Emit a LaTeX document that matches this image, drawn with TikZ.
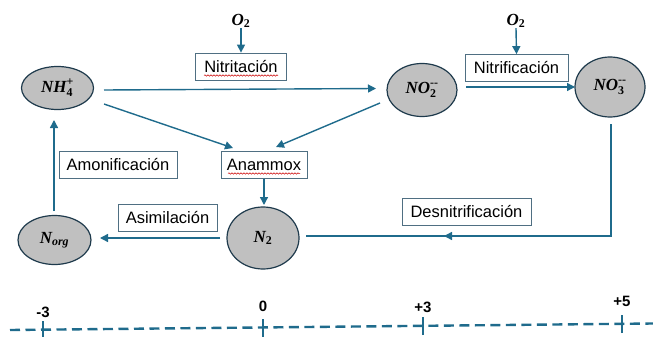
\documentclass[tikz,border=0pt]{standalone}
\usepackage{fontspec}
\setmainfont{Liberation Sans}
\newfontfamily\chemfont{Liberation Serif}
\usepackage{amsmath}
\usetikzlibrary{shapes.geometric,arrows.meta,decorations.pathmorphing}
\definecolor{flow}{HTML}{1F6B8C}
\definecolor{ellfill}{HTML}{C0C0C0}
\definecolor{ellline}{HTML}{1E3A4C}
\definecolor{boxline}{HTML}{4F6F82}
\newcommand{\chm}[1]{\text{\chemfont\bfseries\itshape #1}}
\newcommand{\chu}[1]{\text{\chemfont\bfseries #1}}
\tikzset{
  species/.style={ellipse, draw=ellline, line width=1.2pt, fill=ellfill, inner sep=0pt, font=\fontsize{17}{19}\selectfont},
  procbox/.style={draw=boxline, line width=0.8pt, fill=white, inner sep=0pt, minimum height=27pt, font=\fontsize{16.5}{19}\selectfont},
  flowarrow/.style={draw=flow, line width=1.4pt, -{Triangle[length=8pt,width=8pt]}},
  flowline/.style={draw=flow, line width=1.4pt},
  oxy/.style={inner sep=0pt, font=\fontsize{17}{19}\selectfont},
  scalelbl/.style={inner sep=0pt, font=\fontsize{15}{17}\selectfont\bfseries},
  scaletick/.style={draw=flow, line width=2pt},
  scaleline/.style={draw=flow, line width=2.4pt, dash pattern=on 10pt off 5.5pt},
  spell/.style={draw=red!80!black, line width=0.5pt, decorate, decoration={snake, amplitude=0.7pt, segment length=3pt}}
}
\begin{document}
\begin{tikzpicture}[x=1pt,y=-1pt]
\useasboundingbox (0,0) rectangle (653,337);

% species
\node[species, minimum width=72pt, minimum height=43pt] (nh4) at (57.5,88) {$\chm{NH}_{\chu{4}}^{\chu{+}}$};
\node[species, minimum width=70pt, minimum height=53pt] (no2) at (422,90) {$\chm{NO}_{\chu{2}}^{\chu{--}}$};
\node[species, minimum width=70pt, minimum height=60pt] (no3) at (610,87) {$\chm{NO}_{\chu{3}}^{\chu{--}}$};
\node[species, minimum width=73pt, minimum height=49pt] (norg) at (54.5,240) {$\chm{N}_{\chm{org}}$};
\node[species, minimum width=72pt, minimum height=62pt] (n2) at (263,238) {$\chm{N}_{\chu{2}}$};

% process boxes
\node[procbox, minimum width=91pt] (nitrit) at (241,66.5) {Nitritación};
\node[procbox, minimum width=103pt] (nitrif) at (516.5,68) {Nitrificación};
\node[procbox, minimum width=118pt] (amon) at (118,165) {Amonificación};
\node[procbox, minimum width=86pt] (anam) at (264,165) {Anammox};
\node[procbox, minimum width=99pt] (asim) at (167.5,218) {Asimilación};
\node[procbox, minimum width=129pt] (desn) at (466.5,211.5) {Desnitrificación};

% spell-check underlines
\coordinate (sp1a) at (204,75.5); \coordinate (sp1b) at (278,75.5);
\coordinate (sp2a) at (228,173.5); \coordinate (sp2b) at (300,173.5);
\draw[spell] (sp1a) -- (sp1b);
\draw[spell] (sp2a) -- (sp2b);

% oxygen inputs
\node[oxy] (o2a) at (241,21) {$\chm{O}_{\chu{2}}$};
\node[oxy] (o2b) at (516,21) {$\chm{O}_{\chu{2}}$};
\draw[flowarrow] (o2a.south) -- (nitrit.north);
\draw[flowarrow] (o2b.south) -- (nitrif.north);

% connectors
\coordinate (a1s) at (104,90); \coordinate (a1e) at (376,88.5);
\draw[flowarrow] (a1s) -- (a1e);
\coordinate (a2s) at (104,104); \coordinate (a2e) at (233,148);
\draw[flowarrow] (a2s) -- (a2e);
\coordinate (a3s) at (380,103); \coordinate (a3e) at (276,147);
\draw[flowarrow] (a3s) -- (a3e);
\coordinate (a4s) at (466,87); \coordinate (a4e) at (575,87);
\draw[flowarrow] (a4s) -- (a4e);
\coordinate (a5e) at (264,205);
\draw[flowarrow] (anam.south) -- (a5e);
\coordinate (a6s) at (220,238); \coordinate (a6e) at (100,238);
\draw[flowarrow] (a6s) -- (a6e);
\coordinate (a7s) at (54,211); \coordinate (a7e) at (54,120);
\draw[flowarrow] (a7s) -- (a7e);
\coordinate (a8s) at (611,124); \coordinate (a8c) at (611,236);
\coordinate (a8m) at (444,236); \coordinate (a8e) at (306,236);
\draw[flowline, line join=miter] (a8s) -- (a8c) -- (a8e);
\draw[flowarrow] (a8c) -- (a8m);

% oxidation-state scale
\coordinate (sl) at (10,330); \coordinate (sr) at (653,323.5);
\draw[scaleline] (sl) -- (sr);
\coordinate (t1) at (43,329.8);  \coordinate (t2) at (263,327.6);
\coordinate (t3) at (423,326);   \coordinate (t4) at (622,324);
\draw[scaletick] ([yshift=-9pt]t1) -- ([yshift=9pt]t1);
\draw[scaletick] ([yshift=-9pt]t2) -- ([yshift=9pt]t2);
\draw[scaletick] ([yshift=-9pt]t3) -- ([yshift=9pt]t3);
\draw[scaletick] ([yshift=-9pt]t4) -- ([yshift=9pt]t4);
\node[scalelbl] (l1) at (43,312) {-3};
\node[scalelbl] (l2) at (263,306.5) {0};
\node[scalelbl] (l3) at (423,307.5) {+3};
\node[scalelbl] (l4) at (622,301.5) {+5};
\end{tikzpicture}
\end{document}
